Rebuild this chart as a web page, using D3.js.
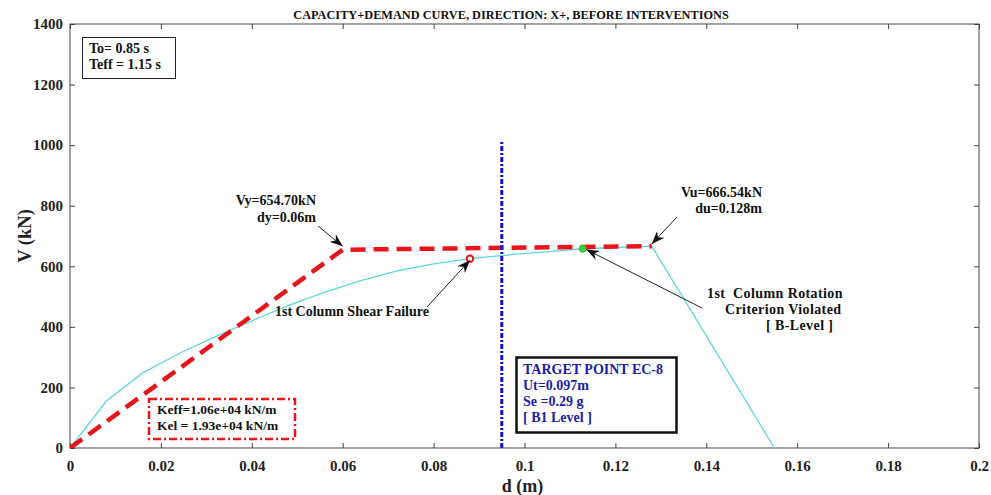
<!DOCTYPE html>
<html>
<head>
<meta charset="utf-8">
<script src="https://cdn.jsdelivr.net/npm/d3@7"></script>
<style>
  html, body { margin: 0; padding: 0; background: #fff; }
  svg { display: block; font-family: "Liberation Serif", "Times New Roman", serif; font-weight: bold; }
  text { white-space: pre; }
</style>
</head>
<body>
<svg id="chart" width="991" height="495"></svg>
<script>
// Capacity (pushover) curve: displacement d (m) vs base shear V (kN)
const capacityD = [0, 0.008, 0.016, 0.024, 0.032, 0.040, 0.048, 0.056, 0.064, 0.072, 0.080, 0.088, 0.096, 0.104, 0.112, 0.120, 0.128, 0.155];
const capacityV = [0, 155, 248, 312, 368, 420, 470, 515, 553, 585, 608, 625, 637, 647, 657, 662, 666.54, 0];

// Idealised bilinear curve
const bilinearD = [0, 0.06, 0.128];
const bilinearV = [0, 654.70, 666.54];

// Target displacement line
const targetD = 0.095;
const targetTopV = 1010;

// Event markers on the capacity curve
const shearFailure = { d: 0.088, v: 625 };
const rotationViolation = { d: 0.1128, v: 658 };

// Axis ticks
const xTicks = [0, 0.02, 0.04, 0.06, 0.08, 0.1, 0.12, 0.14, 0.16, 0.18, 0.2];
const xTickLabels = ["0", "0.02", "0.04", "0.06", "0.08", "0.1", "0.12", "0.14", "0.16", "0.18", "0.2"];
const yTicks = [0, 200, 400, 600, 800, 1000, 1200, 1400];

const svg = d3.select("#chart");
const margin = { left: 70, right: 12, top: 24, bottom: 47 };
const W = 991, H = 495;

const x = d3.scaleLinear().domain([0, 0.2]).range([margin.left, W - margin.right]);
const y = d3.scaleLinear().domain([0, 1400]).range([H - margin.bottom, margin.top]);

const axisColor = "#444";

// Frame
svg.append("rect")
  .attr("x", x(0)).attr("y", y(1400))
  .attr("width", x(0.2) - x(0)).attr("height", y(0) - y(1400))
  .attr("fill", "none").attr("stroke", axisColor).attr("stroke-width", 1);

// Axes with inward ticks
const styleAxis = g => {
  g.select(".domain").remove();
  g.selectAll(".tick line").attr("stroke", axisColor);
  g.selectAll(".tick text").attr("fill", "#222").style("font-size", "15px")
    .style("font-family", "'Liberation Serif', serif").style("font-weight", "bold");
};

svg.append("g").attr("transform", `translate(0,${y(0)})`)
  .call(d3.axisBottom(x).tickValues(xTicks).tickSizeInner(-5).tickSizeOuter(0).tickPadding(12)
    .tickFormat((d, i) => xTickLabels[i]))
  .call(styleAxis);
svg.append("g").attr("transform", `translate(0,${y(1400)})`)
  .call(d3.axisTop(x).tickValues(xTicks).tickSizeInner(-5).tickSizeOuter(0).tickFormat(""))
  .call(styleAxis);
svg.append("g").attr("transform", `translate(${x(0)},0)`)
  .call(d3.axisLeft(y).tickValues(yTicks).tickSizeInner(-5).tickSizeOuter(0).tickPadding(7)
    .tickFormat(d3.format("d")))
  .call(styleAxis);
svg.append("g").attr("transform", `translate(${x(0.2)},0)`)
  .call(d3.axisRight(y).tickValues(yTicks).tickSizeInner(-5).tickSizeOuter(0).tickFormat(""))
  .call(styleAxis);

// Axis titles and chart title
svg.append("text").attr("x", x(0.1) - 2).attr("y", 492).attr("text-anchor", "middle")
  .style("font-size", "18px").attr("fill", "#222").text("d (m)");
svg.append("text").attr("transform", `translate(31,${y(700)}) rotate(-90)`).attr("text-anchor", "middle")
  .style("font-size", "18.5px").attr("fill", "#222").text("V (kN)");
svg.append("text").attr("x", 511).attr("y", 19).attr("text-anchor", "middle")
  .style("font-size", "12.3px").attr("fill", "#111")
  .text("CAPACITY+DEMAND CURVE, DIRECTION: X+, BEFORE INTERVENTIONS");

// Plot clip
svg.append("clipPath").attr("id", "plotClip").append("rect")
  .attr("x", x(0)).attr("y", y(1400)).attr("width", x(0.2) - x(0)).attr("height", y(0) - y(1400));
const plot = svg.append("g").attr("clip-path", "url(#plotClip)");

const line = d3.line().x(d => x(d[0])).y(d => y(d[1]));

// Capacity curve
plot.append("path")
  .datum(d3.zip(capacityD, capacityV))
  .attr("d", line)
  .attr("fill", "none").attr("stroke", "#5fd6e0").attr("stroke-width", 1.3);

// Bilinear idealisation
plot.append("path")
  .datum(d3.zip(bilinearD, bilinearV))
  .attr("d", line)
  .attr("fill", "none").attr("stroke", "#e8141c").attr("stroke-width", 4.5)
  .attr("stroke-dasharray", "15,8");

// Target displacement line
plot.append("line")
  .attr("x1", x(targetD)).attr("x2", x(targetD))
  .attr("y1", y(0)).attr("y2", y(targetTopV))
  .attr("stroke", "#1010c8").attr("stroke-width", 3)
  .attr("stroke-dasharray", "5,2,2,2");

// Event markers
plot.append("circle")
  .attr("cx", x(shearFailure.d)).attr("cy", y(shearFailure.v)).attr("r", 3.2)
  .attr("fill", "#fff").attr("stroke", "#e8141c").attr("stroke-width", 2);
plot.append("circle")
  .attr("cx", x(rotationViolation.d)).attr("cy", y(rotationViolation.v)).attr("r", 3.5)
  .attr("fill", "#3ad43a").attr("stroke", "#2bbd2b").attr("stroke-width", 1);

// Arrow annotations
svg.append("defs").append("marker")
  .attr("id", "arrowHead").attr("viewBox", "0 0 13 10").attr("refX", 13).attr("refY", 5)
  .attr("markerWidth", 13).attr("markerHeight", 10).attr("markerUnits", "userSpaceOnUse")
  .attr("orient", "auto")
  .append("path").attr("d", "M0,0 L13,5 L0,10 L4,5 Z").attr("fill", "#111");

function arrow(x1, y1, d, v) {
  svg.append("line").attr("x1", x1).attr("y1", y1).attr("x2", x(d)).attr("y2", y(v) - 1)
    .attr("stroke", "#222").attr("stroke-width", 1).attr("marker-end", "url(#arrowHead)");
}
arrow(318, 226, bilinearD[1], bilinearV[1] + 8);
arrow(427, 307, shearFailure.d, shearFailure.v - 8);
arrow(677, 217, bilinearD[2], bilinearV[2] + 4);
arrow(702, 308, rotationViolation.d + 0.0008, rotationViolation.v - 6);

function textLines(lines, xs, yPos, anchor, color, size, gap, spacing) {
  const t = svg.append("text").attr("text-anchor", anchor).attr("fill", color).style("font-size", size + "px");
  if (spacing) t.style("letter-spacing", spacing + "px");
  lines.forEach((s, i) => t.append("tspan")
    .attr("x", Array.isArray(xs) ? xs[i] : xs).attr("y", yPos + i * gap).text(s));
}
textLines(["Vy=654.70kN", "dy=0.06m"], 316, 205, "end", "#111", 14, 17);
textLines(["1st Column Shear Failure"], 275, 316, "start", "#111", 14, 17);
textLines(["Vu=666.54kN", "du=0.128m"], 762, 197, "end", "#111", 14, 16);
textLines(["1st  Column Rotation", "Criterion Violated", "[ B-Level ]"], [707, 725, 766], 298, "start", "#111", 14, 16, 0.4);

// Period box
svg.append("rect").attr("x", 82.5).attr("y", 37.5).attr("width", 93).attr("height", 41)
  .attr("fill", "#fff").attr("stroke", "#222").attr("stroke-width", 1);
textLines(["To= 0.85 s", "Teff = 1.15 s"], 89, 53, "start", "#111", 14, 16);

// Stiffness box
svg.append("rect").attr("x", 149).attr("y", 399).attr("width", 146).attr("height", 40)
  .attr("fill", "#fff").attr("stroke", "#e8141c").attr("stroke-width", 2.5)
  .attr("stroke-dasharray", "8,3,2,3");
textLines(["Keff=1.06e+04 kN/m", "Kel = 1.93e+04 kN/m"], 157, 414, "start", "#111", 13.5, 16);

// Target point box
svg.append("rect").attr("x", 516.5).attr("y", 357.5).attr("width", 160).attr("height", 75)
  .attr("fill", "#fff").attr("stroke", "#111").attr("stroke-width", 2.5);
textLines(["TARGET POINT EC-8", "Ut=0.097m", "Se =0.29 g", "[ B1 Level ]"], 523, 374, "start", "#1c1ca8", 14, 16);
</script>
</body>
</html>
